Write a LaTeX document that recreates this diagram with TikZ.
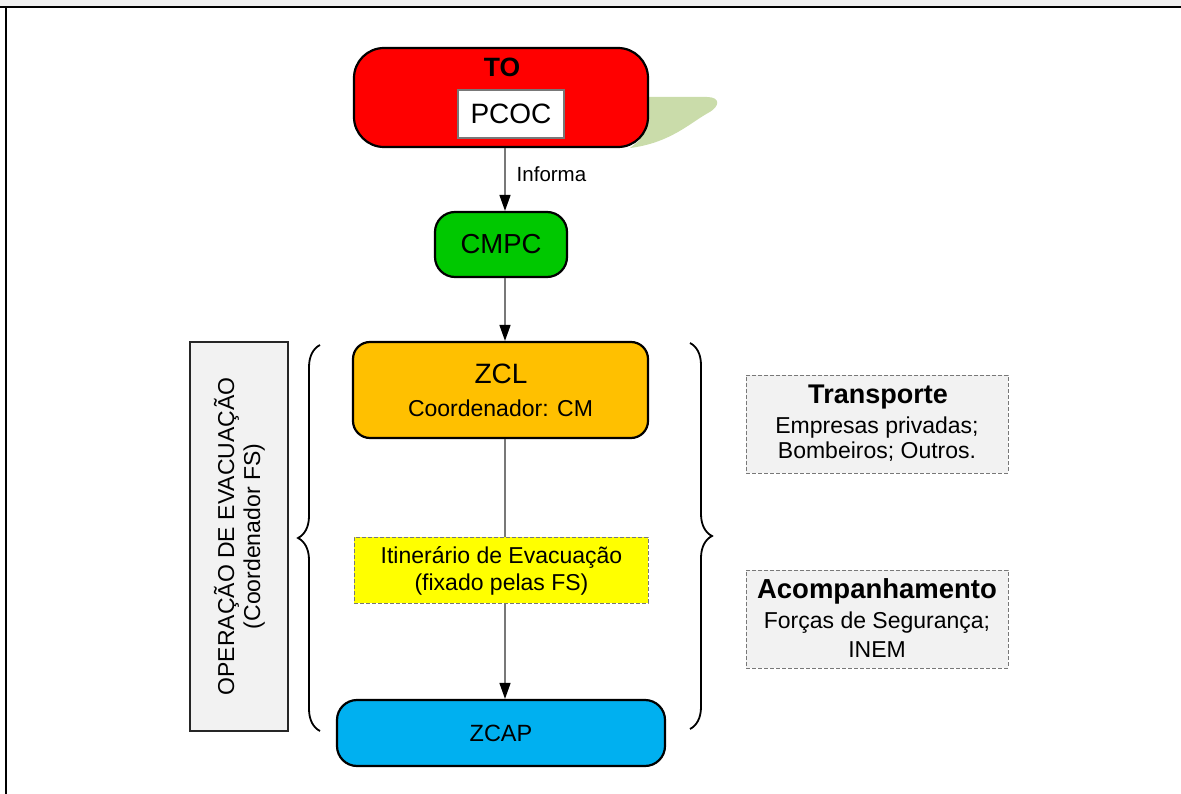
\documentclass[tikz,border=0pt]{standalone}
\usepackage{fontspec}
\setmainfont{Liberation Sans}
\usetikzlibrary{arrows.meta,decorations.pathreplacing}
\definecolor{topgray}{RGB}{240,240,240}
\definecolor{tored}{RGB}{255,0,0}
\definecolor{cmpcgreen}{RGB}{0,200,0}
\definecolor{zclorange}{RGB}{255,192,0}
\definecolor{zcapcyan}{RGB}{0,176,240}
\definecolor{itinyellow}{RGB}{255,255,0}
\definecolor{boxgray}{RGB}{242,242,242}
\definecolor{blobgreen}{RGB}{202,220,170}
\definecolor{linegray}{RGB}{120,120,120}
\definecolor{dashgray}{RGB}{120,120,120}
\tikzset{
  rbox/.style={draw=black,line width=2.2pt,inner sep=0pt},
  dbox/.style={draw=dashgray,line width=1pt,dash pattern=on 4pt off 2pt,inner sep=0pt},
  conn/.style={draw=linegray,line width=1.4pt},
  arr/.style={conn,-{Triangle[width=11pt,length=16pt,color=black]}},
  txt/.style={inner sep=0pt,anchor=base,font=\fontsize{23}{28}\selectfont},
  bigtxt/.style={inner sep=0pt,anchor=base,font=\fontsize{26.5}{30}\selectfont\bfseries},
  bracestyle/.style={line width=1.8pt,decorate,decoration={brace,amplitude=22pt}}
}
\begin{document}
\begin{tikzpicture}[x=1pt,y=-1pt]
\useasboundingbox (0,0) rectangle (1181,794);
% frame
\fill[topgray] (0,0) rectangle (1181,6);
\draw[line width=2.4pt] (0,7) -- (1181,7);
\draw[line width=2.2pt] (6,7) -- (6,794);
% green blob behind TO
\fill[blobgreen] (640,97) -- (707,97) .. controls (720,97) and (721,106) .. (708,113)
  .. controls (690,123) and (670,143) .. (630,148) -- (640,140) -- cycle;
% TO
\node[rbox,fill=tored,rounded corners=30pt,minimum width=294pt,minimum height=99pt] (to) at (501,97.5) {};
\node[bigtxt] (totxt) at (502,77) {TO};
\node[draw=linegray,line width=1.5pt,fill=white,minimum width=106pt,minimum height=48pt,inner sep=0pt,
      font=\fontsize{28}{30}\selectfont] (pcoc) at (511,114) {PCOC};
% CMPC
\node[rbox,fill=cmpcgreen,rounded corners=20pt,minimum width=132pt,minimum height=65pt,
      font=\fontsize{27.5}{30}\selectfont] (cmpc) at (501,244.5) {CMPC};
% ZCL
\node[rbox,fill=zclorange,rounded corners=17pt,minimum width=295pt,minimum height=96pt] (zcl) at (500.5,390) {};
\node[inner sep=0pt,anchor=base,font=\fontsize{28}{32}\selectfont] (zcltitle) at (501,383) {ZCL};
\node[txt] (zclsub) at (500.5,416) {Coordenador: CM};
% Itinerario
\node[dbox,fill=itinyellow,minimum width=294pt,minimum height=66pt] (itin) at (501,570) {};
\node[txt] (itin1) at (501.5,563) {Itinerário de Evacuação};
\node[txt] (itin2) at (501.5,590) {(fixado pelas FS)};
% ZCAP
\node[rbox,fill=zcapcyan,rounded corners=20pt,minimum width=328pt,minimum height=66pt,
      font=\fontsize{23.5}{28}\selectfont] (zcap) at (501,733) {ZCAP};
% connectors
\coordinate (cx) at (505,0);
\draw[arr] (to.south -| cx) -- node[pos=0.42,anchor=west,xshift=11pt,inner sep=0pt,
      font=\fontsize{20.5}{24}\selectfont] (informa) {Informa} (cmpc.north -| cx);
\draw[arr] (cmpc.south -| cx) -- (zcl.north -| cx);
\draw[conn] (zcl.south -| cx) -- (itin.north -| cx);
\draw[arr] (itin.south -| cx) -- (zcap.north -| cx);
% left box
\node[draw=black!85,line width=1.5pt,fill=boxgray,minimum width=98pt,minimum height=389pt,inner sep=0pt] (op) at (239,536.5) {};
\node[rotate=90,align=center,inner sep=0pt,font=\fontsize{23}{26}\selectfont] (optxt) at (239.5,536.5)
  {OPERAÇÃO DE EVACUAÇÃO\\(Coordenador FS)};
% braces
\coordinate (lb1) at (320,731);
\coordinate (lb2) at (320,345);
\coordinate (rb1) at (690,343);
\coordinate (rb2) at (690,729);
\draw[bracestyle] (lb1) -- (lb2);
\draw[bracestyle] (rb1) -- (rb2);
% right boxes
\node[dbox,fill=boxgray,minimum width=262pt,minimum height=98pt] (transp) at (877,424) {};
\node[bigtxt,font=\fontsize{27}{30}\selectfont\bfseries] (transpt) at (878,403) {Transporte};
\node[txt] (transp1) at (877,433) {Empresas privadas;};
\node[txt] (transp2) at (877,458) {Bombeiros; Outros.};
\node[dbox,fill=boxgray,minimum width=262pt,minimum height=98pt] (acomp) at (877,619) {};
\node[bigtxt,font=\fontsize{27.5}{30}\selectfont\bfseries] (acompt) at (877,598) {Acompanhamento};
\node[txt] (acomp1) at (877,628) {Forças de Segurança;};
\node[txt] (acomp2) at (877,657) {INEM};
\end{tikzpicture}
\end{document}
